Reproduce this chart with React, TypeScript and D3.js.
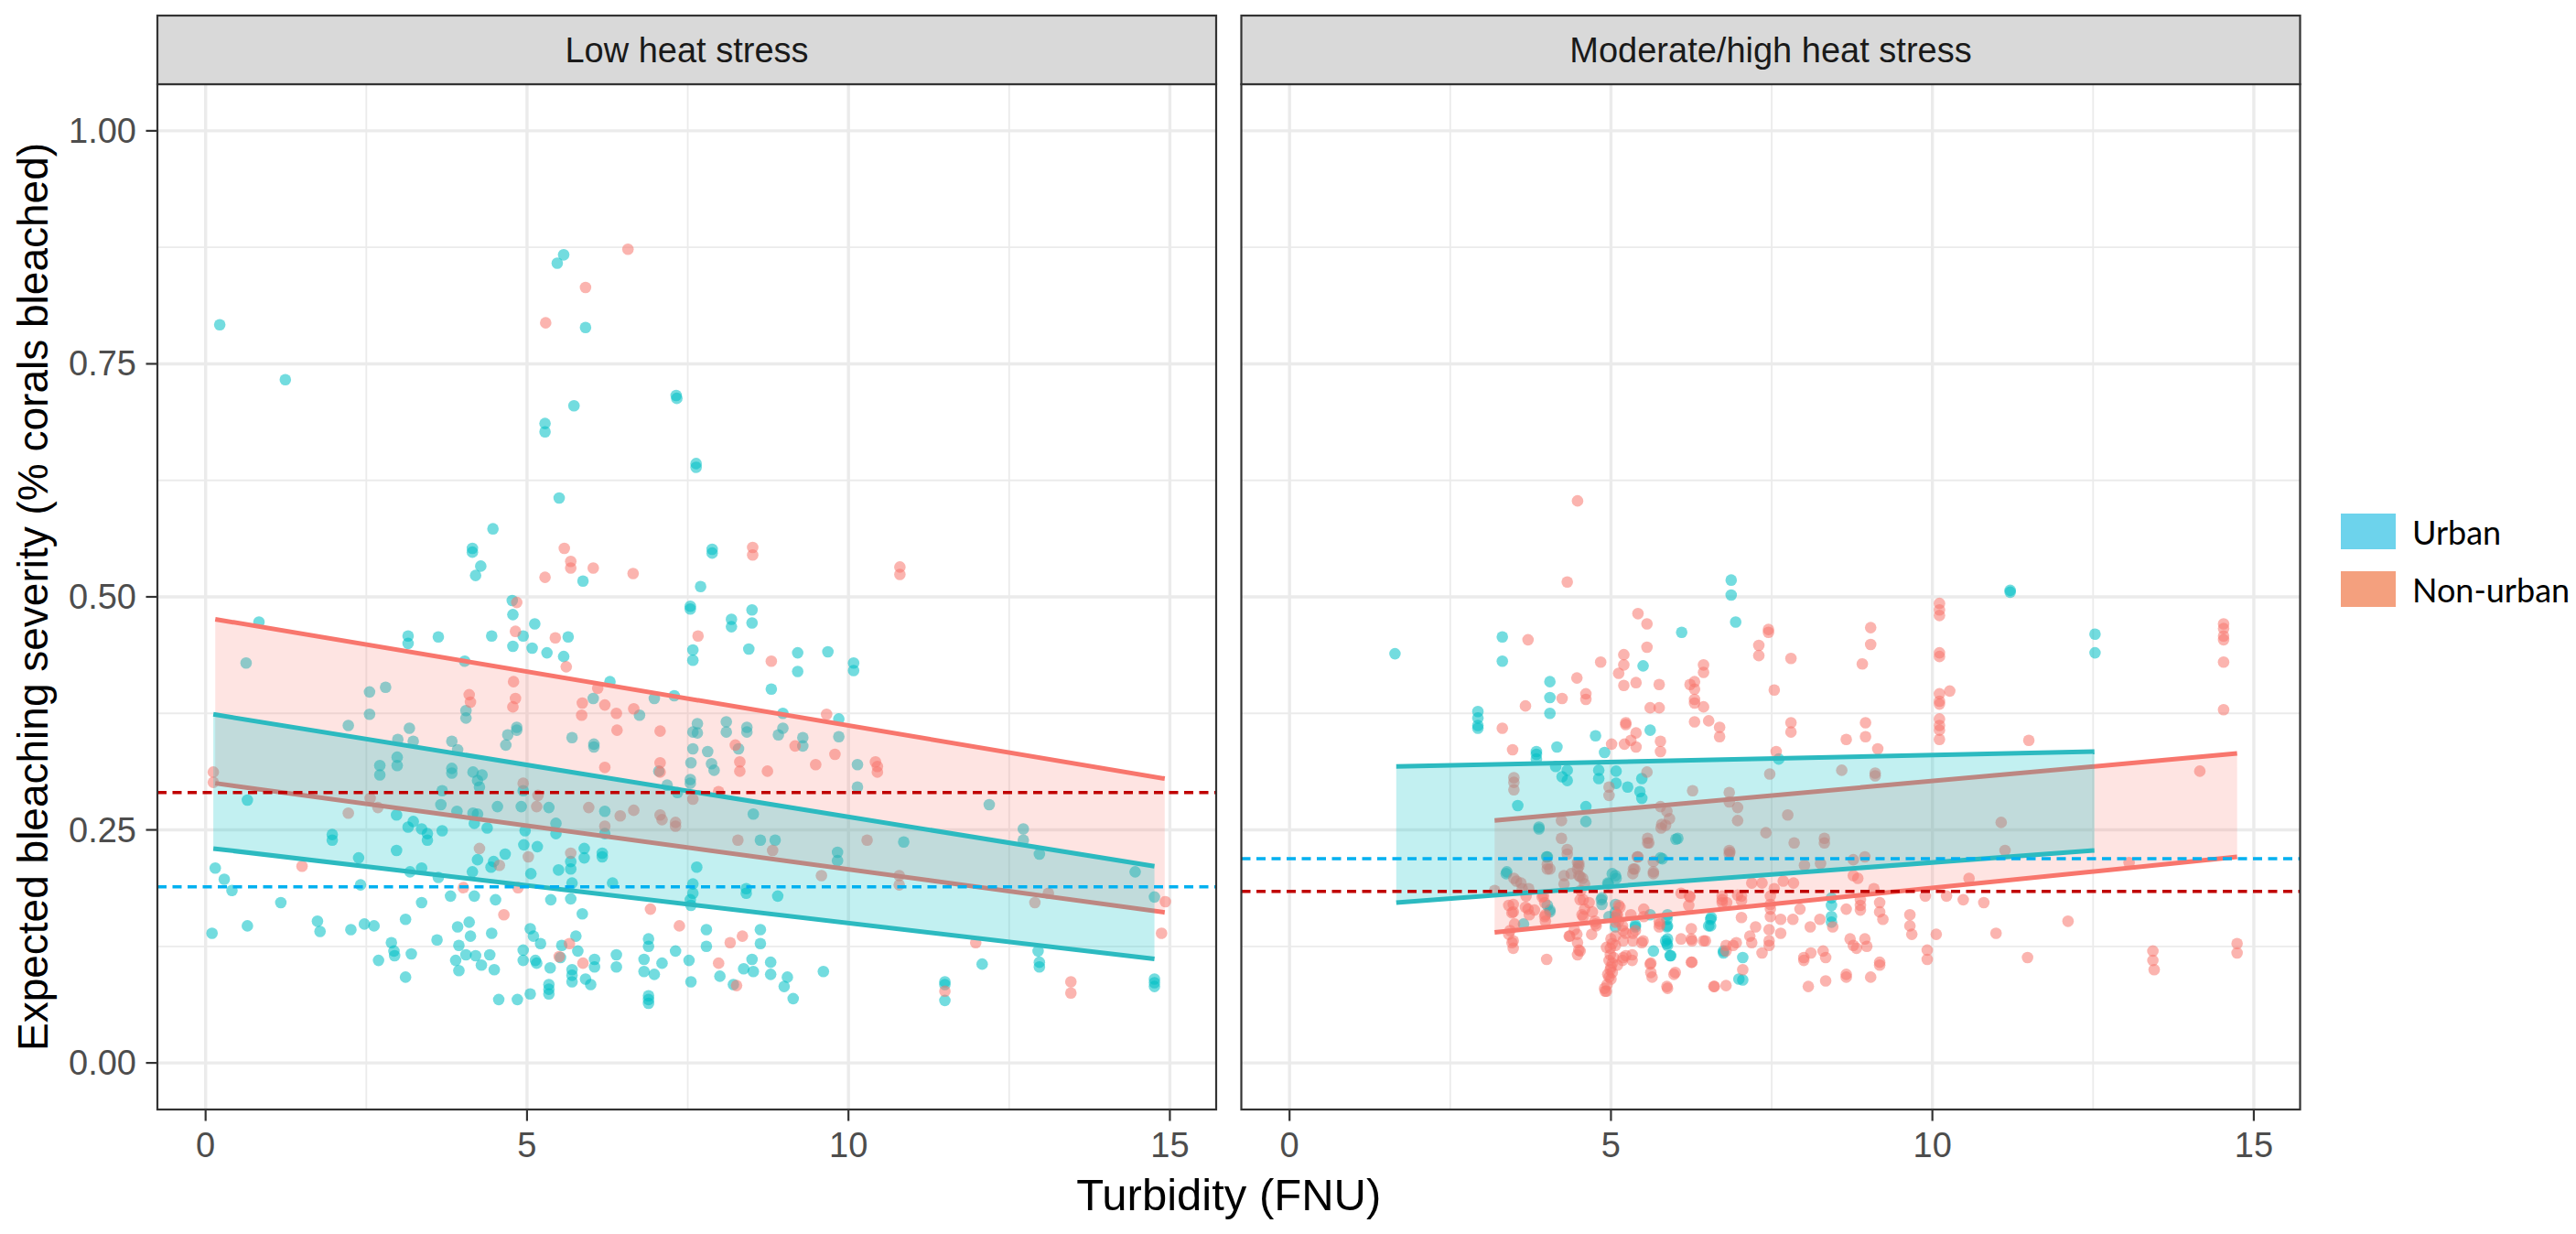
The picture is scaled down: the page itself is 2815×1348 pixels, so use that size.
import React, { useEffect } from "react";
import * as d3 from "d3";

// ---------------- DATA ----------------
type P = [number, number];

const panels = ["Low heat stress", "Moderate/high heat stress"];
const groups = ["Urban", "Non-urban"];
const xTicks = [0, 5, 10, 15];
const xMinor = [2.5, 7.5, 12.5];
const yTicks = [0, 0.25, 0.5, 0.75, 1.0];
const yMinor = [0.125, 0.375, 0.625, 0.875];
const yTickLabels = ["0.00", "0.25", "0.50", "0.75", "1.00"];

// Left panel points: urban
const lowUrban: P[] = [
  [0.22,0.792],[1.24,0.733],[5.57,0.867],[5.47,0.858],[5.91,0.789],[7.32,0.716],[7.33,0.713],[5.73,0.705],
  [5.28,0.686],[5.28,0.677],[7.63,0.643],[7.63,0.639],[5.50,0.606],[4.47,0.573],[4.15,0.552],[4.15,0.548],
  [4.28,0.533],[4.20,0.523],[5.87,0.517],[7.88,0.551],[7.88,0.547],[7.70,0.511],[4.77,0.496],[4.78,0.481],
  [5.12,0.471],[7.54,0.490],[7.54,0.487],[8.50,0.486],[8.18,0.476],[8.18,0.468],[8.50,0.472],[0.83,0.473],
  [3.15,0.458],[3.15,0.450],[3.62,0.457],[4.45,0.458],[4.94,0.458],[5.64,0.457],[4.78,0.447],[5.08,0.445],
  [5.31,0.440],[5.57,0.436],[4.03,0.431],[0.63,0.429],[7.58,0.443],[7.58,0.432],[8.45,0.444],[9.21,0.440],
  [9.68,0.441],[9.21,0.420],[10.08,0.429],[10.08,0.421],[8.80,0.401],[6.29,0.409],[2.55,0.398],[2.80,0.403],
  [6.03,0.391],[6.75,0.373],[6.98,0.391],[7.29,0.394],[2.55,0.374],[4.05,0.378],[4.05,0.370],[9.85,0.369],
  [8.98,0.375],[2.22,0.362],[3.17,0.359],[4.84,0.360],[4.84,0.357],[4.70,0.352],[4.67,0.341],[7.65,0.364],
  [7.65,0.354],[7.58,0.355],[8.10,0.366],[8.10,0.355],[8.42,0.360],[8.42,0.355],[8.98,0.359],[8.91,0.352],
  [9.29,0.349],[9.29,0.340],[9.85,0.350],[5.70,0.349],[6.04,0.342],[6.04,0.339],[2.99,0.347],[3.23,0.345],
  [3.83,0.345],[3.92,0.336],[2.98,0.328],[2.98,0.319],[2.71,0.319],[2.71,0.309],[3.83,0.316],[3.83,0.311],
  [4.16,0.312],[4.30,0.309],[7.58,0.337],[7.81,0.334],[8.29,0.337],[10.14,0.320],[7.05,0.313],[7.55,0.322],
  [7.87,0.321],[7.91,0.314],[4.23,0.303],[4.26,0.296],[4.94,0.292],[7.54,0.304],[7.54,0.300],[7.18,0.298],
  [7.34,0.290],[10.14,0.296],[3.68,0.292],[3.66,0.277],[3.91,0.270],[4.16,0.268],[4.54,0.275],[4.91,0.275],
  [5.34,0.274],[6.21,0.270],[0.65,0.282],[12.19,0.277],[2.97,0.266],[8.52,0.267],[3.15,0.253],[3.23,0.259],
  [3.36,0.251],[3.45,0.239],[3.68,0.249],[3.45,0.246],[4.18,0.257],[4.23,0.267],[4.38,0.252],[4.97,0.249],
  [5.45,0.257],[5.45,0.246],[1.97,0.245],[1.97,0.239],[6.21,0.246],[8.63,0.239],[8.86,0.239],[10.86,0.237],
  [12.72,0.251],[12.72,0.239],[12.97,0.224],[2.97,0.228],[4.95,0.234],[5.16,0.232],[5.89,0.230],[6.17,0.225],
  [5.89,0.220],[4.66,0.224],[2.38,0.220],[9.83,0.226],[9.83,0.217],[0.15,0.209],[0.29,0.197],[0.41,0.185],
  [2.41,0.191],[3.18,0.205],[3.36,0.209],[3.62,0.199],[4.15,0.205],[4.23,0.218],[4.48,0.216],[4.44,0.210],
  [5.06,0.203],[5.49,0.207],[5.68,0.208],[5.68,0.216],[6.17,0.221],[7.64,0.210],[7.58,0.192],[7.58,0.182],
  [7.54,0.175],[7.55,0.169],[8.41,0.187],[8.41,0.182],[8.90,0.179],[14.46,0.205],[14.76,0.178],[3.81,0.179],
  [4.18,0.179],[4.51,0.175],[5.37,0.175],[5.68,0.176],[1.17,0.172],[3.36,0.172],[6.33,0.193],[5.70,0.193],
  [5.86,0.160],[0.65,0.147],[1.74,0.152],[1.78,0.141],[2.26,0.143],[2.47,0.149],[2.62,0.147],[3.11,0.154],
  [3.92,0.146],[4.10,0.151],[4.12,0.136],[3.60,0.132],[4.45,0.139],[5.05,0.144],[5.10,0.136],[5.21,0.128],
  [7.79,0.143],[7.79,0.125],[8.63,0.143],[8.63,0.128],[6.89,0.133],[6.89,0.125],[5.54,0.126],[5.76,0.136],
  [0.10,0.139],[12.95,0.120],[2.89,0.129],[2.93,0.120],[3.94,0.126],[2.69,0.110],[2.94,0.115],[3.20,0.117],
  [3.89,0.110],[3.94,0.099],[4.05,0.116],[4.20,0.115],[4.29,0.105],[4.42,0.116],[4.49,0.100],[4.94,0.121],
  [4.94,0.110],[5.13,0.110],[5.15,0.107],[5.36,0.102],[5.52,0.113],[5.70,0.100],[5.70,0.087],[5.79,0.120],
  [6.05,0.111],[6.05,0.103],[5.91,0.090],[5.99,0.084],[6.39,0.116],[6.39,0.103],[6.82,0.111],[6.82,0.098],
  [6.98,0.095],[7.10,0.107],[7.31,0.120],[7.52,0.110],[7.55,0.087],[8.00,0.093],[8.21,0.084],[8.37,0.101],
  [8.50,0.111],[8.52,0.098],[8.79,0.108],[8.79,0.095],[9.00,0.082],[9.05,0.092],[9.14,0.069],[9.61,0.098],
  [11.50,0.084],[11.50,0.067],[12.08,0.106],[12.97,0.108],[12.97,0.103],[14.76,0.090],[14.76,0.082],[3.11,0.092],
  [4.56,0.068],[4.85,0.068],[5.05,0.074],[5.34,0.084],[5.34,0.074],[6.89,0.072],[6.89,0.064],[11.50,0.087],
  [14.76,0.086],[6.89,0.068],[5.70,0.094],[5.34,0.079]
];

// Left panel points: non-urban
const lowNonUrban: P[] = [
  [6.57,0.873],[5.91,0.832],[5.29,0.794],[5.58,0.552],[5.68,0.538],[5.68,0.531],[6.03,0.531],[5.28,0.521],
  [6.65,0.525],[8.51,0.553],[8.51,0.545],[10.80,0.532],[10.80,0.524],[4.84,0.494],[4.82,0.463],[5.44,0.456],
  [5.61,0.425],[7.66,0.458],[8.80,0.431],[4.79,0.409],[6.10,0.402],[4.10,0.395],[4.12,0.387],[4.82,0.391],
  [4.78,0.382],[5.86,0.386],[6.21,0.384],[5.85,0.373],[6.39,0.375],[6.66,0.380],[9.66,0.374],[6.40,0.357],
  [7.07,0.356],[8.24,0.341],[9.17,0.340],[9.79,0.331],[9.49,0.320],[10.42,0.323],[10.45,0.312],[8.31,0.323],
  [8.31,0.313],[8.74,0.313],[7.07,0.322],[7.07,0.312],[6.21,0.317],[4.94,0.300],[7.98,0.291],[7.58,0.283],
  [5.17,0.287],[5.15,0.275],[5.96,0.274],[6.45,0.265],[6.66,0.271],[0.12,0.312],[0.12,0.301],[2.56,0.284],
  [2.68,0.274],[7.07,0.266],[7.10,0.261],[7.31,0.258],[7.31,0.254],[2.22,0.268],[6.21,0.254],[8.28,0.239],
  [10.29,0.239],[4.26,0.230],[5.68,0.225],[5.02,0.221],[8.82,0.228],[4.57,0.212],[9.58,0.201],[10.79,0.201],
  [10.79,0.191],[13.11,0.182],[12.90,0.172],[14.93,0.173],[4.01,0.188],[1.50,0.211],[4.86,0.188],[6.92,0.165],
  [4.64,0.159],[7.37,0.147],[8.35,0.136],[8.16,0.129],[5.66,0.128],[14.87,0.139],[11.98,0.129],[5.50,0.114],
  [5.87,0.107],[7.98,0.107],[8.26,0.083],[11.50,0.077],[13.46,0.087],[13.46,0.075],[10.45,0.318]
];

// Right panel points: urban
const highUrban: P[] = [
  [6.87,0.518],[6.87,0.502],[11.21,0.507],[11.21,0.505],[6.94,0.473],[6.10,0.462],[3.31,0.457],[1.64,0.439],
  [3.31,0.431],[5.50,0.426],[12.53,0.460],[12.53,0.440],[4.05,0.409],[4.05,0.392],[4.05,0.375],[2.93,0.377],
  [2.93,0.370],[2.93,0.359],[2.93,0.362],[5.61,0.357],[4.76,0.351],[3.84,0.334],[4.16,0.339],[4.90,0.333],
  [3.84,0.331],[3.84,0.326],[4.14,0.318],[4.32,0.314],[4.24,0.307],[4.32,0.303],[4.81,0.314],[4.81,0.305],
  [5.08,0.313],[5.08,0.300],[5.26,0.296],[5.48,0.305],[5.45,0.291],[5.48,0.284],[7.61,0.326],[3.55,0.276],
  [4.61,0.275],[4.61,0.259],[3.88,0.251],[6.01,0.240],[4.01,0.221],[5.77,0.220],[3.37,0.203],[5.02,0.203],
  [5.08,0.198],[4.96,0.192],[4.01,0.169],[4.05,0.162],[4.86,0.177],[4.86,0.170],[4.97,0.157],[5.07,0.170],
  [8.43,0.177],[8.43,0.169],[8.43,0.157],[8.43,0.151],[5.38,0.146],[5.87,0.154],[5.87,0.146],[5.85,0.131],
  [5.87,0.128],[5.66,0.120],[5.93,0.115],[6.55,0.154],[6.55,0.147],[6.75,0.118],[7.05,0.113],[7.05,0.089],
  [3.64,0.149],
  [3.88,0.253],[6.04,0.241],[4.00,0.221],[5.80,0.219],[3.38,0.205],[5.07,0.201],[4.95,0.193],[4.85,0.175],
  [4.05,0.164],[5.07,0.162],[5.07,0.156],[5.07,0.146],[5.38,0.148],[5.61,0.159],[5.88,0.159],[5.88,0.147],
  [5.88,0.133],[5.88,0.126],[5.92,0.115],[6.56,0.156],[6.52,0.147],[6.75,0.120],[6.99,0.090]
];

// Right panel points: non-urban
const highNonUrban: P[] = [
  [4.48,0.603],[4.32,0.516],[10.11,0.493],[10.11,0.486],[10.11,0.480],[5.42,0.482],[5.56,0.471],[7.45,0.465],
  [7.45,0.462],[9.04,0.467],[9.04,0.449],[3.71,0.454],[5.56,0.446],[5.20,0.438],[5.20,0.427],[4.84,0.430],
  [5.12,0.418],[5.20,0.405],[5.39,0.408],[5.75,0.406],[4.47,0.413],[6.44,0.427],[6.44,0.419],[6.30,0.409],
  [6.30,0.401],[6.30,0.390],[6.30,0.386],[6.23,0.406],[6.44,0.382],[7.30,0.448],[7.30,0.437],[7.80,0.434],
  [8.91,0.428],[10.11,0.440],[10.11,0.436],[7.54,0.400],[10.11,0.396],[10.11,0.388],[10.11,0.385],[10.27,0.399],
  [14.53,0.471],[14.53,0.454],[14.53,0.430],[14.53,0.379],[14.53,0.466],[14.53,0.458],[4.24,0.391],[4.61,0.396],
  [4.61,0.390],[3.67,0.383],[3.31,0.359],[5.61,0.381],[5.75,0.381],[5.23,0.363],[5.23,0.365],[5.39,0.354],
  [6.30,0.366],[6.52,0.367],[6.69,0.360],[6.69,0.350],[7.80,0.365],[7.80,0.355],[8.96,0.365],[8.96,0.350],
  [10.11,0.369],[10.11,0.362],[10.11,0.357],[10.11,0.347],[8.66,0.347],[11.50,0.346],[5.01,0.342],[5.21,0.342],
  [5.31,0.346],[5.39,0.339],[5.77,0.345],[5.77,0.334],[3.47,0.336],[9.15,0.337],[7.57,0.334],
  [5.56,0.312],[3.49,0.306],[3.49,0.301],[3.49,0.293],[4.97,0.296],[4.97,0.287],[6.27,0.292],[6.84,0.290],
  [6.84,0.280],[6.97,0.274],[6.97,0.260],[7.47,0.310],[8.59,0.314],[9.11,0.311],[9.11,0.308],[7.75,0.266],
  [5.77,0.275],[5.87,0.270],[5.91,0.262],[5.79,0.256],[4.23,0.260],[11.07,0.258],[4.23,0.241],[4.32,0.229],
  [4.32,0.224],[5.57,0.241],[5.57,0.236],[7.41,0.247],[7.85,0.236],[8.32,0.241],[8.32,0.236],[6.84,0.228],
  [6.84,0.224],[11.13,0.228],[4.01,0.213],[4.01,0.208],[4.48,0.215],[4.48,0.208],[4.50,0.201],[5.41,0.221],
  [5.37,0.208],[5.66,0.216],[5.66,0.205],[8.01,0.212],[8.26,0.214],[8.77,0.218],[8.77,0.201],[8.84,0.198],
  [8.95,0.221],[10.57,0.198],[13.06,0.215],[14.16,0.313],[3.49,0.198],[3.60,0.193],[4.27,0.201],[4.27,0.192],
  [4.56,0.198],[4.59,0.192],[5.34,0.203],[7.19,0.193],[7.35,0.193],[7.68,0.195],[7.84,0.193],[7.54,0.187],
  [6.97,0.180],[3.19,0.185],[3.62,0.187],[3.68,0.179],[3.95,0.179],[3.97,0.172],[3.41,0.169],[3.46,0.161],
  [3.71,0.165],[3.73,0.159],[3.97,0.157],[4.53,0.185],[4.57,0.175],[4.59,0.165],[4.57,0.157],[5.12,0.169],
  [5.10,0.159],[5.07,0.151],[4.75,0.152],[4.77,0.147],[5.51,0.165],[5.51,0.157],[6.09,0.182],[6.22,0.179],
  [6.73,0.179],[6.73,0.172],[7.03,0.179],[7.03,0.174],[7.48,0.179],[7.48,0.170],[7.48,0.165],[7.48,0.157],
  [7.94,0.165],[8.66,0.165],[8.88,0.175],[8.88,0.169],[8.88,0.164],[9.18,0.172],[9.18,0.162],[9.23,0.154],
  [9.09,0.187],[9.89,0.179],[10.22,0.179],[10.48,0.175],[10.80,0.172],[9.65,0.159],[9.65,0.147],[9.68,0.138],
  [10.06,0.138],[10.99,0.139],[12.11,0.152],[4.35,0.136],[4.43,0.143],[3.41,0.138],[3.46,0.129],[3.48,0.123],
  [4.00,0.111],[4.48,0.129],[4.50,0.121],[4.48,0.116],[5.34,0.139],[5.34,0.131],[5.07,0.136],[5.07,0.126],
  [4.99,0.123],[4.99,0.116],[4.97,0.110],[5.02,0.107],[4.99,0.100],[4.97,0.092],[4.94,0.084],[4.91,0.077],
  [5.18,0.110],[5.48,0.129],[5.75,0.152],[5.75,0.146],[5.62,0.107],[5.62,0.097],[5.64,0.092],[5.98,0.095],
  [5.87,0.082],[6.09,0.133],[6.25,0.144],[6.26,0.131],[6.44,0.131],[6.26,0.108],[6.79,0.126],[6.79,0.120],
  [6.95,0.129],[7.03,0.156],[7.25,0.146],[7.16,0.136],[7.19,0.129],[7.05,0.100],[6.60,0.082],[6.79,0.083],
  [7.35,0.118],[7.46,0.143],[7.46,0.131],[7.46,0.126],[7.64,0.154],[7.64,0.139],[7.83,0.154],[8.10,0.146],
  [8.25,0.154],[8.45,0.146],[8.00,0.113],[8.00,0.110],[8.11,0.118],[8.30,0.120],[8.34,0.113],[8.72,0.133],
  [8.77,0.126],[8.82,0.123],[8.95,0.133],[8.98,0.125],[9.18,0.108],[9.18,0.105],[8.66,0.095],[8.66,0.092],
  [8.34,0.088],[8.07,0.082],[9.04,0.092],[9.92,0.121],[9.92,0.111],[11.48,0.113],[13.43,0.120],[13.43,0.110],
  [13.45,0.100],[14.74,0.128],[14.74,0.118],[4.70,0.138],[5.18,0.147],[5.23,0.139],[5.23,0.115],[5.10,0.105],
  [4.95,0.095],
  [4.50,0.214],[4.50,0.211],[4.05,0.208],[4.38,0.203],[4.52,0.200],[3.53,0.195],[3.72,0.187],[3.48,0.170],
  [3.48,0.162],[3.50,0.149],[3.43,0.142],[3.48,0.131],[3.67,0.167],[3.81,0.164],[3.93,0.178],[3.98,0.159],
  [3.98,0.152],[4.36,0.136],[4.47,0.138],[4.52,0.120],[4.52,0.175],[4.55,0.159],[4.66,0.172],[4.71,0.162],
  [4.76,0.149],[4.93,0.124],[5.00,0.133],[5.02,0.128],[5.14,0.167],[5.09,0.159],[5.12,0.152],[5.19,0.142],
  [5.19,0.131],[5.04,0.113],[5.00,0.103],[5.02,0.097],[5.00,0.090],[4.90,0.080],[4.93,0.077],[5.19,0.113],
  [5.33,0.116],[5.33,0.110],[5.38,0.142],[5.31,0.159],[5.50,0.131],[5.61,0.106],[5.76,0.149],[5.88,0.080],
  [6.00,0.097],[6.25,0.108],[6.25,0.133],[6.21,0.169],[6.23,0.178],[6.47,0.131],[6.61,0.082],[6.90,0.126],
  [6.73,0.175],[6.80,0.172],[5.59,0.236],[5.42,0.221],[5.66,0.203],[5.35,0.208],[5.85,0.255],[5.78,0.252],
  [6.85,0.226]
];

// Fitted ribbons: [x, lower, upper] at the ends of each group's range
const lowUrbanBand: [number, number, number][] = [[0.12, 0.230, 0.374], [14.76, 0.1115, 0.211]];
const lowNonUrbanBand: [number, number, number][] = [[0.15, 0.300, 0.476], [14.92, 0.1615, 0.305]];
const highUrbanBand: [number, number, number][] = [[1.66, 0.172, 0.318], [12.52, 0.228, 0.334]];
const highNonUrbanBand: [number, number, number][] = [[3.19, 0.140, 0.260], [14.74, 0.221, 0.332]];

// Reference (dashed) lines per panel: [urban, non-urban]
const lowRefLines = [0.189, 0.290];
const highRefLines = [0.219, 0.184];

// ---------------- STYLE ----------------
const W = 2815;
const H = 1348;
const panelX = [172, 1356.5];
const panelW = 1157;
const panelTop = 92;
const panelBottom = 1212;
const stripTop = 17;
const xDomain: [number, number] = [-0.75, 15.72];
const yDomain: [number, number] = [-0.05, 1.05];

const COL_URBAN = "#00BFC4";
const COL_NON = "#F8766D";
const DASH_URBAN = "#00B0F0";
const DASH_NON = "#C00000";
const FONT = "'Liberation Sans', Arial, Helvetica, sans-serif";

function Panel({ idx, urban, non, uBand, nBand, refs }: {
  idx: number; urban: P[]; non: P[];
  uBand: [number, number, number][]; nBand: [number, number, number][]; refs: number[];
}) {
  const x0 = panelX[idx];
  const x = d3.scaleLinear().domain(xDomain).range([x0, x0 + panelW]);
  const y = d3.scaleLinear().domain(yDomain).range([panelBottom, panelTop]);
  const area = d3.area<[number, number, number]>().x(d => x(d[0])).y0(d => y(d[1])).y1(d => y(d[2]));
  const lineLo = d3.line<[number, number, number]>().x(d => x(d[0])).y(d => y(d[1]));
  const lineHi = d3.line<[number, number, number]>().x(d => x(d[0])).y(d => y(d[2]));
  const clipId = `clip${idx}`;
  const r = 6.3;
  return (
    <g>
      <defs>
        <clipPath id={clipId}>
          <rect x={x0} y={panelTop} width={panelW} height={panelBottom - panelTop} />
        </clipPath>
      </defs>
      <rect x={x0} y={panelTop} width={panelW} height={panelBottom - panelTop} fill="#FFFFFF" />
      <g clipPath={`url(#${clipId})`}>
        {yMinor.map(v => (
          <line key={"ym" + v} x1={x0} x2={x0 + panelW} y1={y(v)} y2={y(v)} stroke="#EBEBEB" strokeWidth={1.8} />
        ))}
        {xMinor.map(v => (
          <line key={"xm" + v} x1={x(v)} x2={x(v)} y1={panelTop} y2={panelBottom} stroke="#EBEBEB" strokeWidth={1.8} />
        ))}
        {yTicks.map(v => (
          <line key={"yM" + v} x1={x0} x2={x0 + panelW} y1={y(v)} y2={y(v)} stroke="#EBEBEB" strokeWidth={3.4} />
        ))}
        {xTicks.map(v => (
          <line key={"xM" + v} x1={x(v)} x2={x(v)} y1={panelTop} y2={panelBottom} stroke="#EBEBEB" strokeWidth={3.4} />
        ))}
        {urban.map((d, i) => (
          <circle key={"u" + i} cx={x(d[0])} cy={y(d[1])} r={r} fill={COL_URBAN} fillOpacity={0.55} />
        ))}
        {non.map((d, i) => (
          <circle key={"n" + i} cx={x(d[0])} cy={y(d[1])} r={r} fill={COL_NON} fillOpacity={0.55} />
        ))}
        <path d={area(nBand) || ""} fill={COL_NON} fillOpacity={0.2} />
        <path d={lineHi(nBand) || ""} fill="none" stroke={COL_NON} strokeWidth={5} />
        <path d={lineLo(nBand) || ""} fill="none" stroke={COL_NON} strokeWidth={5} />
        <path d={area(uBand) || ""} fill={COL_URBAN} fillOpacity={0.24} />
        <path d={lineHi(uBand) || ""} fill="none" stroke="#2CBAC0" strokeWidth={5} />
        <path d={lineLo(uBand) || ""} fill="none" stroke="#2CBAC0" strokeWidth={5} />
        <line x1={x0} x2={x0 + panelW} y1={y(refs[0])} y2={y(refs[0])} stroke={DASH_URBAN} strokeWidth={3.5} strokeDasharray="10 6.5" />
        <line x1={x0} x2={x0 + panelW} y1={y(refs[1])} y2={y(refs[1])} stroke={DASH_NON} strokeWidth={3.5} strokeDasharray="10 6.5" />
      </g>
      <rect x={x0} y={panelTop} width={panelW} height={panelBottom - panelTop} fill="none" stroke="#333333" strokeWidth={2.2} />
      {/* strip */}
      <rect x={x0} y={stripTop} width={panelW} height={panelTop - stripTop} fill="#D9D9D9" stroke="#333333" strokeWidth={2.2} />
      <text x={x0 + panelW / 2} y={(stripTop + panelTop) / 2} textAnchor="middle" dominantBaseline="central"
        fontFamily={FONT} fontSize={38} fill="#1A1A1A">{panels[idx]}</text>
      {/* x axis */}
      {xTicks.map(v => (
        <g key={"xt" + v}>
          <line x1={x(v)} x2={x(v)} y1={panelBottom} y2={panelBottom + 12.5} stroke="#333333" strokeWidth={2.2} />
          <text x={x(v)} y={panelBottom + 52} textAnchor="middle" fontFamily={FONT} fontSize={38} fill="#4D4D4D">{v}</text>
        </g>
      ))}
      {idx === 0 && yTicks.map((v, i) => (
        <g key={"yt" + v}>
          <line x1={x0 - 12.5} x2={x0} y1={y(v)} y2={y(v)} stroke="#333333" strokeWidth={2.2} />
          <text x={x0 - 23} y={y(v)} textAnchor="end" dominantBaseline="central" fontFamily={FONT} fontSize={38} fill="#4D4D4D">{yTickLabels[i]}</text>
        </g>
      ))}
    </g>
  );
}

export default function App() {
  useEffect(() => {
    document.body.style.margin = "0";
    document.body.style.overflow = "hidden";
  }, []);
  const legendY = [561, 624];
  const legendFill = ["#6DD3EC", "#F4A07E"];
  return (
    <div style={{ position: "absolute", left: 0, top: 0, width: W, height: H, overflow: "hidden", background: "#fff" }}>
      <svg width={W} height={H} viewBox={`0 0 ${W} ${H}`} style={{ display: "block" }}>
        <rect x={0} y={0} width={W} height={H} fill="#FFFFFF" />
        <Panel idx={0} urban={lowUrban} non={lowNonUrban} uBand={lowUrbanBand} nBand={lowNonUrbanBand} refs={lowRefLines} />
        <Panel idx={1} urban={highUrban} non={highNonUrban} uBand={highUrbanBand} nBand={highNonUrbanBand} refs={highRefLines} />
        <text x={(panelX[0] + panelX[1] + panelW) / 2} y={1322} textAnchor="middle" fontFamily={FONT} fontSize={49} fill="#000">
          Turbidity (FNU)
        </text>
        <text transform={`translate(52, ${(panelTop + panelBottom) / 2}) rotate(-90)`} textAnchor="middle" fontFamily={FONT} fontSize={46} fill="#000">
          Expected bleaching severity (% corals bleached)
        </text>
        {groups.map((g, i) => (
          <g key={g}>
            <rect x={2558} y={legendY[i]} width={60} height={39} fill={legendFill[i]} />
            <text x={2636} y={legendY[i] + 19.5} dominantBaseline="central" fontFamily="Lato, 'Open Sans', sans-serif" fontSize={36} fill="#000">{g}</text>
          </g>
        ))}
      </svg>
    </div>
  );
}
